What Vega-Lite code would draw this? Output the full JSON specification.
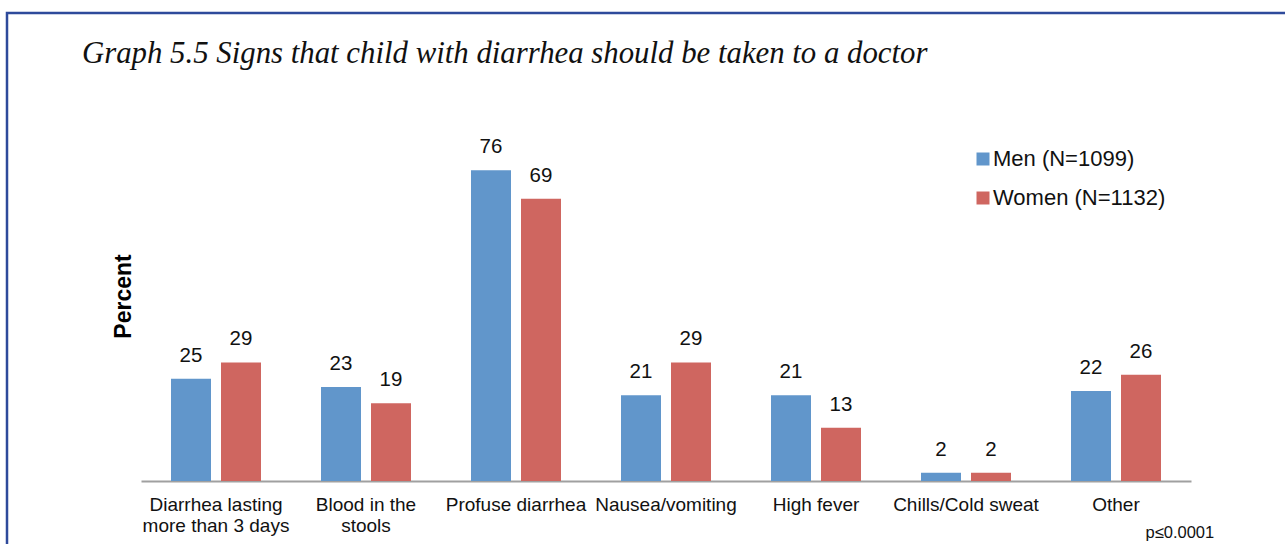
{
  "$schema": "https://vega.github.io/schema/vega-lite/v6.json",
  "width": 1280,
  "height": 540,
  "autosize": {"type": "none"},
  "padding": {"left": 7, "top": 13, "right": 0, "bottom": 0},
  "background": "white",
  "config": {
    "view": {"stroke": "#2E4A9B", "strokeWidth": 2.5},
    "font": "Liberation Sans"
  },
  "title": {
    "text": "Graph 5.5 Signs that child with diarrhea should be taken to a doctor",
    "anchor": "start",
    "frame": "group",
    "font": "Liberation Serif",
    "fontStyle": "italic",
    "fontWeight": "normal",
    "fontSize": 30.8,
    "color": "#111111",
    "baseline": "alphabetic",
    "offset": 0,
    "dx": 75,
    "dy": 81
  },
  "data": {
    "values": [
      {"sign": "Diarrhea lasting|more than 3 days", "group": "Men (N=1099)", "pct": 25},
      {"sign": "Diarrhea lasting|more than 3 days", "group": "Women (N=1132)", "pct": 29},
      {"sign": "Blood in the|stools", "group": "Men (N=1099)", "pct": 23},
      {"sign": "Blood in the|stools", "group": "Women (N=1132)", "pct": 19},
      {"sign": "Profuse diarrhea", "group": "Men (N=1099)", "pct": 76},
      {"sign": "Profuse diarrhea", "group": "Women (N=1132)", "pct": 69},
      {"sign": "Nausea/vomiting", "group": "Men (N=1099)", "pct": 21},
      {"sign": "Nausea/vomiting", "group": "Women (N=1132)", "pct": 29},
      {"sign": "High fever", "group": "Men (N=1099)", "pct": 21},
      {"sign": "High fever", "group": "Women (N=1132)", "pct": 13},
      {"sign": "Chills/Cold sweat", "group": "Men (N=1099)", "pct": 2},
      {"sign": "Chills/Cold sweat", "group": "Women (N=1132)", "pct": 2},
      {"sign": "Other", "group": "Men (N=1099)", "pct": 22},
      {"sign": "Other", "group": "Women (N=1132)", "pct": 26}
    ]
  },
  "encoding": {
    "x": {
      "field": "sign",
      "type": "nominal",
      "sort": null,
      "scale": {"range": [134, 1184], "paddingInner": 0, "paddingOuter": 0},
      "axis": {
        "title": "p≤0.0001",
        "titleFont": "Liberation Sans",
        "titleFontSize": 16.5,
        "titleFontWeight": "normal",
        "titleColor": "#111111",
        "titleAlign": "left",
        "titleBaseline": "alphabetic",
        "titleX": 1138,
        "titleY": 56,
        "offset": -72,
        "labelAngle": 0,
        "labelExpr": "split(datum.label, '|')",
        "labelFontSize": 19,
        "labelColor": "#111111",
        "labelLineHeight": 21,
        "labelPadding": 14,
        "labelLimit": 300,
        "ticks": false,
        "domainColor": "#A0A0A0",
        "domainWidth": 2,
        "grid": false
      }
    },
    "xOffset": {
      "field": "group",
      "type": "nominal",
      "scale": {"paddingInner": 0.2, "paddingOuter": 0.6}
    },
    "y": {
      "field": "pct",
      "type": "quantitative",
      "scale": {"domain": [0, 90], "range": [468, 100]},
      "axis": {
        "title": "Percent",
        "titleFont": "Liberation Sans",
        "titleFontSize": 23,
        "titleFontWeight": "bold",
        "titleColor": "#000000",
        "titleAngle": 270,
        "titleAlign": "center",
        "titleBaseline": "middle",
        "titleX": 116,
        "titleY": 283,
        "labels": false,
        "ticks": false,
        "domain": false,
        "grid": false
      }
    }
  },
  "layer": [
    {
      "mark": {"type": "bar"},
      "encoding": {
        "color": {
          "field": "group",
          "type": "nominal",
          "scale": {"domain": ["Men (N=1099)", "Women (N=1132)"], "range": ["#6196CB", "#CF6660"]},
          "legend": {
            "title": null,
            "orient": "none",
            "legendX": 965,
            "legendY": 135,
            "symbolType": "square",
            "symbolSize": 169,
            "symbolStrokeWidth": 0,
            "labelFont": "Liberation Sans",
            "labelFontSize": 22,
            "labelColor": "#111111",
            "labelOffset": -1,
            "labelLimit": 300,
            "rowPadding": 17,
            "padding": 0
          }
        }
      }
    },
    {
      "mark": {"type": "text", "baseline": "alphabetic", "dy": -17, "fontSize": 20.5, "color": "#111111", "font": "Liberation Sans"},
      "encoding": {"text": {"field": "pct", "type": "quantitative"}}
    }
  ]
}
